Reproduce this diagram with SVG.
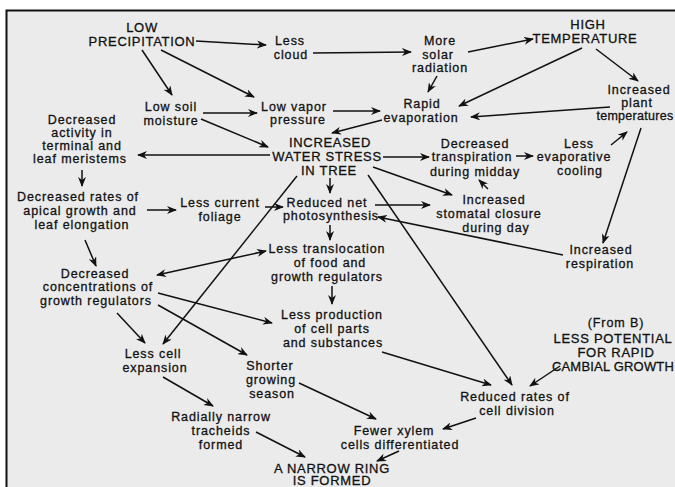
<svg xmlns="http://www.w3.org/2000/svg" width="675" height="487" viewBox="0 0 675 487">
<defs>
<style>
.t{font-family:"Liberation Sans",Arial,sans-serif;font-size:12.5px;letter-spacing:0.9px;fill:#111;text-anchor:middle;stroke:#111;stroke-width:0.3}
.c{font-size:13px;letter-spacing:0.7px}
.l{fill:none;stroke:#111;stroke-width:1.5}
</style>
<marker id="a" viewBox="0 0 10 8" refX="9" refY="4" markerWidth="10" markerHeight="8" markerUnits="userSpaceOnUse" orient="auto-start-reverse">
<path d="M0,0 L10,4 L0,8 L3,4 Z" fill="#111"/>
</marker>
</defs>
<rect x="0" y="0" width="675" height="487" fill="#ffffff"/>
<rect x="6" y="10" width="669" height="477" fill="#ebebeb"/>
<path d="M6.5,487 V10.5 H675" fill="none" stroke="#111" stroke-width="2"/>

<g id="connectors" class="l" marker-end="url(#a)">
<line x1="196" y1="41" x2="266" y2="45"/>
<line x1="313" y1="53" x2="411" y2="52"/>
<line x1="468" y1="52" x2="533" y2="39"/>
<line x1="596" y1="49" x2="638" y2="81"/>
<line x1="582" y1="48" x2="459" y2="106"/>
<line x1="437" y1="76" x2="428" y2="92"/>
<line x1="610" y1="107" x2="471" y2="117"/>
<line x1="142" y1="50" x2="172" y2="95"/>
<line x1="161" y1="50" x2="254" y2="97"/>
<line x1="203" y1="113" x2="257" y2="113"/>
<line x1="333" y1="111" x2="380" y2="111"/>
<line x1="382" y1="120" x2="332" y2="133"/>
<line x1="201" y1="119" x2="268" y2="147"/>
<line x1="270" y1="155" x2="138" y2="155"/>
<line x1="383" y1="157" x2="429" y2="157"/>
<line x1="516" y1="156" x2="533" y2="156"/>
<line x1="611" y1="145" x2="627" y2="132"/>
<line x1="641" y1="128" x2="603" y2="243"/>
<line x1="563" y1="255" x2="378" y2="217"/>
<line x1="373" y1="167" x2="452" y2="195"/>
<line x1="488" y1="189" x2="479" y2="180"/>
<line x1="375" y1="205" x2="430" y2="205"/>
<line x1="330" y1="178" x2="330" y2="193"/>
<line x1="265" y1="207" x2="283" y2="207"/>
<line x1="147" y1="210" x2="176" y2="210"/>
<line x1="82" y1="170" x2="82" y2="186"/>
<line x1="85" y1="240" x2="96" y2="266"/>
<line x1="157" y1="275" x2="266" y2="251" marker-start="url(#a)"/>
<line x1="330" y1="225" x2="330" y2="240"/>
<line x1="332" y1="286" x2="332" y2="304"/>
<line x1="158" y1="293" x2="272" y2="323"/>
<line x1="158" y1="305" x2="247" y2="355"/>
<line x1="117" y1="313" x2="145" y2="343"/>
<line x1="297" y1="176" x2="163" y2="344"/>
<line x1="368" y1="175" x2="512" y2="385"/>
<line x1="163" y1="377" x2="213" y2="406"/>
<line x1="299" y1="383" x2="376" y2="419"/>
<line x1="256" y1="432" x2="305" y2="457"/>
<line x1="399" y1="451" x2="377" y2="461"/>
<line x1="476" y1="418" x2="443" y2="429"/>
<line x1="382" y1="352" x2="491" y2="385"/>
<line x1="560" y1="366" x2="530" y2="386"/>
</g>

<g id="low-precipitation"><text class="t c" x="142" y="32">LOW</text><text class="t c" x="142" y="46">PRECIPITATION</text></g>
<g id="less-cloud"><text class="t" x="290" y="45">Less</text><text class="t" x="291" y="59">cloud</text></g>
<g id="more-solar"><text class="t" x="440" y="45">More</text><text class="t" x="438" y="59">solar</text><text class="t" x="440" y="72">radiation</text></g>
<g id="high-temperature"><text class="t c" x="588" y="29">HIGH</text><text class="t c" x="585" y="43">TEMPERATURE</text></g>
<g id="low-soil"><text class="t" x="171" y="111">Low soil</text><text class="t" x="171" y="125">moisture</text></g>
<g id="low-vapor"><text class="t" x="294" y="111">Low vapor</text><text class="t" x="298" y="124">pressure</text></g>
<g id="rapid-evaporation"><text class="t" x="422" y="108">Rapid</text><text class="t" x="421" y="122">evaporation</text></g>
<g id="plant-temperatures"><text class="t" x="639" y="94">Increased</text><text class="t" x="637" y="107">plant</text><text class="t" x="635" y="120" style="letter-spacing:0.3px">temperatures</text></g>
<g id="decreased-activity"><text class="t" x="82" y="124">Decreased</text><text class="t" x="82" y="137">activity in</text><text class="t" x="82" y="150">terminal and</text><text class="t" x="80" y="163">leaf meristems</text></g>
<g id="water-stress"><text class="t c" x="330" y="147">INCREASED</text><text class="t c" x="327" y="161">WATER STRESS</text><text class="t c" x="329" y="175">IN TREE</text></g>
<g id="decreased-transpiration"><text class="t" x="475" y="148">Decreased</text><text class="t" x="472" y="161">transpiration</text><text class="t" x="475" y="176">during midday</text></g>
<g id="less-evaporative"><text class="t" x="579" y="148">Less</text><text class="t" x="574" y="161">evaporative</text><text class="t" x="580" y="175">cooling</text></g>
<g id="decreased-rates"><text class="t" x="78" y="201">Decreased rates of</text><text class="t" x="80" y="215">apical growth and</text><text class="t" x="82" y="229">leaf elongation</text></g>
<g id="less-foliage"><text class="t" x="220" y="207">Less current</text><text class="t" x="220" y="221">foliage</text></g>
<g id="reduced-photosynthesis"><text class="t" x="327" y="207">Reduced net</text><text class="t" x="331" y="220">photosynthesis</text></g>
<g id="stomatal-closure"><text class="t" x="494" y="204">Increased</text><text class="t" x="489" y="218">stomatal closure</text><text class="t" x="496" y="232">during day</text></g>
<g id="increased-respiration"><text class="t" x="601" y="254">Increased</text><text class="t" x="600" y="268">respiration</text></g>
<g id="decreased-concentrations"><text class="t" x="95" y="278">Decreased</text><text class="t" x="98" y="291">concentrations of</text><text class="t" x="96" y="305">growth regulators</text></g>
<g id="less-translocation"><text class="t" x="327" y="253">Less translocation</text><text class="t" x="330" y="267">of food and</text><text class="t" x="327" y="281">growth regulators</text></g>
<g id="less-production"><text class="t" x="332" y="319">Less production</text><text class="t" x="332" y="333">of cell parts</text><text class="t" x="333" y="347">and substances</text></g>
<g id="less-potential"><text class="t" x="616" y="327">(From B)</text><text class="t c" x="613" y="343">LESS POTENTIAL</text><text class="t c" x="616" y="357">FOR RAPID</text><text class="t c" x="613" y="371" style="letter-spacing:0.2px">CAMBIAL GROWTH</text></g>
<g id="less-cell-expansion"><text class="t" x="153" y="358">Less cell</text><text class="t" x="155" y="372">expansion</text></g>
<g id="shorter-season"><text class="t" x="270" y="370">Shorter</text><text class="t" x="271" y="384">growing</text><text class="t" x="272" y="398">season</text></g>
<g id="reduced-division"><text class="t" x="515" y="401">Reduced rates of</text><text class="t" x="517" y="415">cell division</text></g>
<g id="radially-narrow"><text class="t" x="221" y="421">Radially narrow</text><text class="t" x="221" y="435">tracheids</text><text class="t" x="221" y="449">formed</text></g>
<g id="fewer-xylem"><text class="t" x="394" y="435">Fewer xylem</text><text class="t" x="400" y="449">cells differentiated</text></g>
<g id="narrow-ring"><text class="t c" x="332" y="473">A NARROW RING</text><text class="t c" x="332" y="485">IS FORMED</text></g>
</svg>
